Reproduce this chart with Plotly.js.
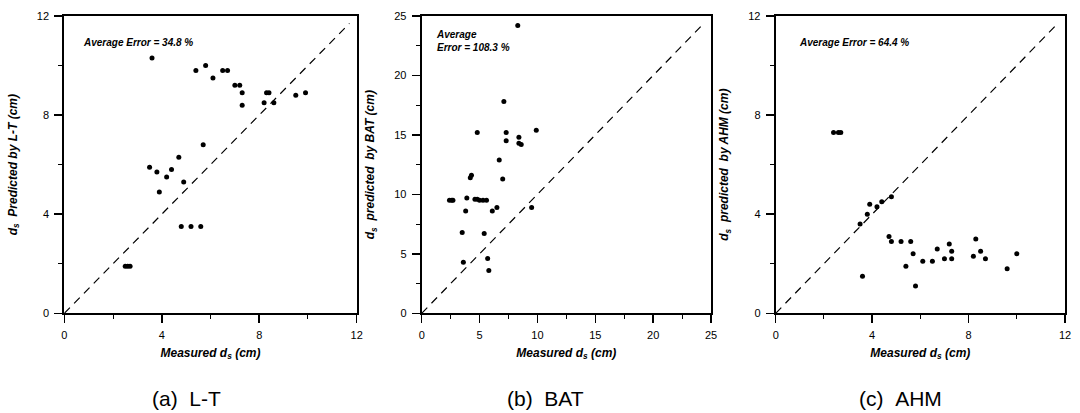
<!DOCTYPE html>
<html>
<head>
<meta charset="utf-8">
<script src="https://cdn.plot.ly/plotly-3.0.1.min.js"></script>
<style>html,body{margin:0;padding:0;background:#fff;}#chart{width:1080px;height:413px;}</style>
</head>
<body>
<div id="chart"></div>
<script>
// ---- data ----
const ltMeasured  = [3.6, 5.4, 5.8, 6.1, 6.5, 6.7, 7.0, 7.2, 7.3, 7.3, 8.2, 8.3, 8.4, 8.6, 9.5, 9.9,
                     5.7, 4.7, 3.5, 3.8, 4.4, 4.2, 4.9, 3.9, 4.8, 5.2, 5.6, 2.5, 2.6, 2.7];
const ltPredicted = [10.3, 9.8, 10.0, 9.5, 9.8, 9.8, 9.2, 9.2, 8.9, 8.4, 8.5, 8.9, 8.9, 8.5, 8.8, 8.9,
                     6.8, 6.3, 5.9, 5.7, 5.8, 5.5, 5.3, 4.9, 3.5, 3.5, 3.5, 1.9, 1.9, 1.9];

const batMeasured  = [8.3, 7.1, 4.8, 7.3, 7.3, 8.4, 8.4, 8.6, 9.9, 6.7, 4.2, 4.3, 7.0,
                      2.4, 2.6, 2.7, 3.9, 4.6, 4.8, 5.0, 5.3, 5.6, 3.8, 6.1, 6.5, 9.5,
                      3.5, 5.4, 3.6, 5.7, 5.8];
const batPredicted = [24.2, 17.8, 15.2, 15.2, 14.5, 14.8, 14.3, 14.2, 15.4, 12.9, 11.4, 11.6, 11.3,
                      9.5, 9.5, 9.5, 9.7, 9.6, 9.6, 9.5, 9.5, 9.5, 8.6, 8.6, 8.9, 8.9,
                      6.8, 6.7, 4.3, 4.6, 3.6];

const ahmMeasured  = [2.4, 2.6, 2.7, 3.5, 3.8, 3.9, 4.2, 4.4, 4.8, 3.6, 4.7, 4.8, 5.2, 5.6,
                      5.7, 5.4, 5.8, 6.1, 6.5, 6.7, 7.0, 7.2, 7.3, 7.3, 8.2, 8.3, 8.5, 8.7, 9.6, 10.0];
const ahmPredicted = [7.3, 7.3, 7.3, 3.6, 4.0, 4.4, 4.3, 4.5, 4.7, 1.5, 3.1, 2.9, 2.9, 2.9,
                      2.4, 1.9, 1.1, 2.1, 2.1, 2.6, 2.2, 2.8, 2.5, 2.2, 2.3, 3.0, 2.5, 2.2, 1.8, 2.4];

const perfectLineSmall = [0, 11.7];
const perfectLineBAT   = [0, 24.3];

const panelCaptions = ['(a)  L-T', '(b)  BAT', '(c)  AHM'];
const errorTexts = ['Average Error = 34.8 %', 'Average<br>Error = 108.3 %', 'Average Error = 64.4 %'];
const yTitles = ['d<sub>s</sub>  Predicted by L-T (cm)', 'd<sub>s</sub>  predicted  by BAT (cm)', 'd<sub>s</sub>  predicted  by AHM (cm)'];
const xTitle = 'Measured d<sub>s</sub> (cm)';

// ---- layout helpers ----
const W = 1080, H = 413;
const FONT = 'Arial, "Liberation Sans", sans-serif';
const px = v => v / W;
const py = v => 1 - v / H;

const panels = [
  {x0: 64.3, x1: 356.7, max: 12, dtick: 4, minor: 2, xs: ltMeasured, ys: ltPredicted, line: perfectLineSmall},
  {x0: 421.7, x1: 711.0, max: 25, dtick: 5, minor: 2.5, xs: batMeasured, ys: batPredicted, line: perfectLineBAT},
  {x0: 775.7, x1: 1065.0, max: 12, dtick: 4, minor: 2, xs: ahmMeasured, ys: ahmPredicted, line: perfectLineSmall}
];
const yTop = 16, yBot = 313.3;

const data = [];
const layout = {
  width: W, height: H,
  margin: {l: 0, r: 0, t: 0, b: 0},
  paper_bgcolor: '#fff', plot_bgcolor: '#fff',
  showlegend: false,
  font: {family: FONT, color: '#000', size: 11},
  annotations: []
};

panels.forEach((p, i) => {
  const n = i === 0 ? '' : String(i + 1);
  const xa = 'x' + n, ya = 'y' + n;
  data.push({
    x: p.line, y: p.line, xaxis: xa, yaxis: ya, type: 'scatter', mode: 'lines',
    line: {color: '#000', width: 1.2, dash: '8px,6px'}, hoverinfo: 'skip'
  });
  data.push({
    x: p.xs, y: p.ys, xaxis: xa, yaxis: ya, type: 'scatter', mode: 'markers',
    marker: {color: '#000', size: 5, symbol: 'circle'}
  });
  const common = {
    range: [0, p.max], tickmode: 'linear', tick0: 0, dtick: p.dtick,
    showgrid: false, zeroline: false, showline: true, linecolor: '#000', linewidth: 2,
    mirror: true, ticks: 'outside', ticklen: 8, tickwidth: 1.5, tickcolor: '#000',
    tickfont: {family: FONT, size: 11, color: '#000'},
    minor: {ticks: 'outside', ticklen: 4, tickwidth: 1, tickcolor: '#000', dtick: p.minor, tick0: 0, showgrid: false},
    automargin: false, fixedrange: true
  };
  layout['xaxis' + n] = Object.assign({}, common, {
    domain: [px(p.x0), px(p.x1)], anchor: ya, ticklabelstandoff: 2,
    title: {text: '<b><i>' + xTitle + '</i></b>', font: {family: FONT, size: 12, color: '#000'}, standoff: 9}
  });
  layout['yaxis' + n] = Object.assign({}, common, {
    domain: [py(yBot), py(yTop)], anchor: xa, ticklabelstandoff: 3,
    title: {text: '<b><i>' + yTitles[i] + '</i></b>', font: {family: FONT, size: 12, color: '#000'}, standoff: 17}
  });
  // error annotation
  const ex = i === 1 ? 1.06 : (i === 0 ? 0.69 : 0.9);
  const ey = i === 1 ? 22.9 : 10.95;
  layout.annotations.push({
    xref: xa, yref: ya, x: ex, y: ey, xanchor: 'left', yanchor: 'middle', align: 'left',
    text: '<b><i>' + errorTexts[i] + '</i></b>', showarrow: false,
    font: {family: FONT, size: 10, color: '#000'}
  });
});

const capX = [186, 545, 900];
panelCaptions.forEach((c, i) => {
  layout.annotations.push({
    xref: 'paper', yref: 'paper', x: px(capX[i]), y: py(398), xanchor: 'center', yanchor: 'middle',
    text: c.replace(/ /g, '&nbsp;'), showarrow: false, font: {family: FONT, size: 21, color: '#000'}
  });
});

Plotly.newPlot('chart', data, layout, {displayModeBar: false, staticPlot: true});
</script>
</body>
</html>
